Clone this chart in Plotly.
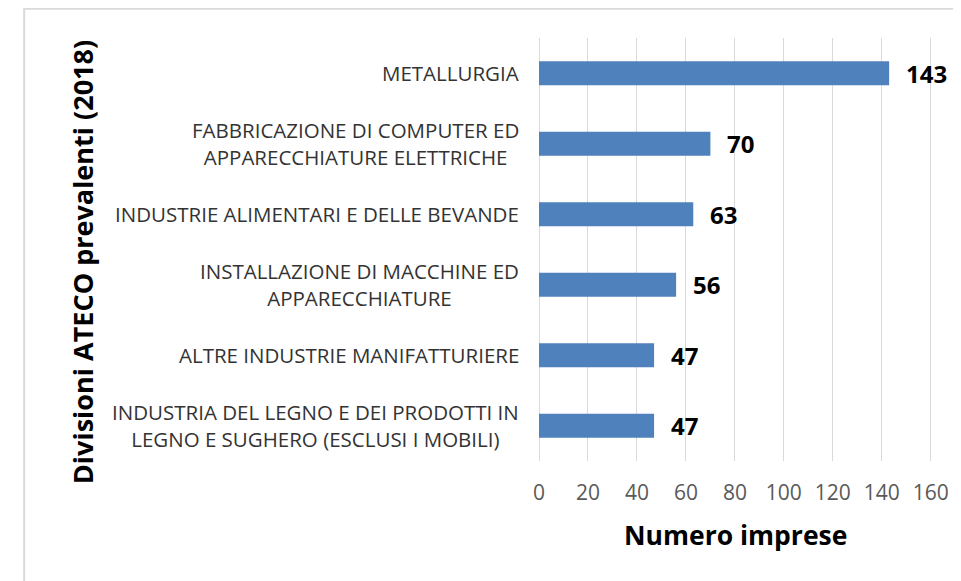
import plotly.graph_objects as go

categories = [
    "METALLURGIA",
    "FABBRICAZIONE DI COMPUTER ED<br>APPARECCHIATURE ELETTRICHE",
    "INDUSTRIE ALIMENTARI E DELLE BEVANDE",
    "INSTALLAZIONE DI MACCHINE ED<br>APPARECCHIATURE",
    "ALTRE INDUSTRIE MANIFATTURIERE",
    "INDUSTRIA DEL LEGNO E DEI PRODOTTI IN<br>LEGNO E SUGHERO (ESCLUSI I MOBILI)",
]
values = [143, 70, 63, 56, 47, 47]
x_ticks = [0, 20, 40, 60, 80, 100, 120, 140, 160]
x_title = "Numero imprese"
y_title = "Divisioni ATECO prevalenti (2018)"

ids = list(range(len(categories)))
FONT = "Open Sans"

fig = go.Figure()
fig.add_trace(go.Bar(
    x=values, y=ids, orientation="h",
    marker=dict(color="#4F81BD", line=dict(width=0)),
    width=0.34, hoverinfo="skip",
))

annotations = []
for i, (c, v) in enumerate(zip(categories, values)):
    annotations.append(dict(
        x=v, y=i, xref="x", yref="y", text=f"<b>{v}</b>", showarrow=False,
        xanchor="left", yanchor="middle", xshift=15,
        font=dict(family=FONT, size=24, color="#000000"),
    ))
    annotations.append(dict(
        x=0, y=i, xref="paper", yref="y", text=c, showarrow=False,
        xanchor="right", yanchor="middle", align="center", xshift=-18,
        font=dict(family=FONT, size=20.5, color="#333333"),
    ))
annotations.append(dict(
    x=0.5, y=-0.175, xref="paper", yref="paper", text=f"<b>{x_title}</b>",
    showarrow=False, xanchor="center", yanchor="middle",
    font=dict(family=FONT, size=26.5, color="#000000"),
))
annotations.append(dict(
    x=-1.163, y=0.47, xref="paper", yref="paper", text=f"<b>{y_title}</b>",
    showarrow=False, xanchor="center", yanchor="middle", textangle=-90,
    font=dict(family=FONT, size=27, color="#000000"),
))

fig.update_layout(
    width=953, height=573,
    margin=dict(l=531, r=26, t=30, b=120),
    paper_bgcolor="white", plot_bgcolor="white",
    showlegend=False,
    annotations=annotations,
    shapes=[dict(type="rect", xref="paper", yref="paper",
                 x0=-1.31, x1=1.2, y0=-0.4, y1=1.069,
                 line=dict(color="#D9D9D9", width=2), layer="below")],
    xaxis=dict(
        range=[0, 160.5], tickvals=x_ticks, ticktext=[str(t) for t in x_ticks],
        showgrid=True, gridcolor="#D9D9D9", gridwidth=1,
        zeroline=True, zerolinecolor="#D9D9D9", zerolinewidth=1,
        showline=False, ticks="", ticklabelstandoff=17,
        tickfont=dict(family=FONT, size=21, color="#595959"),
    ),
    yaxis=dict(
        range=[5.5, -0.5], tickvals=ids, showticklabels=False,
        showgrid=False, zeroline=False, showline=False,
    ),
)

fig.write_html("out.html")
